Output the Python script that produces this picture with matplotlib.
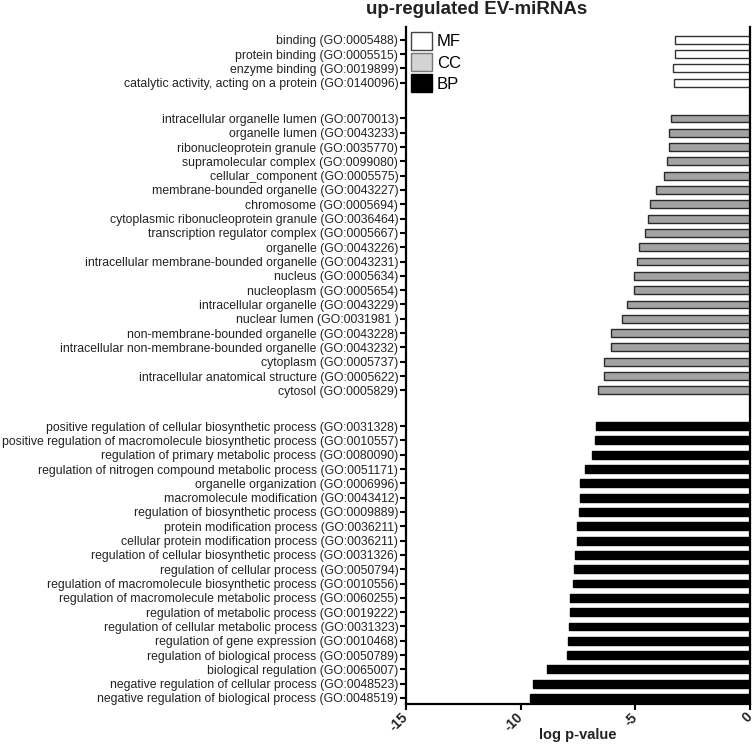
import numpy as np
import matplotlib.pyplot as plt
from matplotlib.patches import Patch

plt.rcParams['font.family'] = ['Liberation Sans', 'DejaVu Sans']

mf_labels = [
    'binding (GO:0005488)',
    'protein binding (GO:0005515)',
    'enzyme binding (GO:0019899)',
    'catalytic activity, acting on a protein (GO:0140096)',
]
mf_values = [-3.27, -3.28, -3.34, -3.33]

cc_labels = [
    'intracellular organelle lumen (GO:0070013)',
    'organelle lumen (GO:0043233)',
    'ribonucleoprotein granule (GO:0035770)',
    'supramolecular complex (GO:0099080)',
    'cellular_component (GO:0005575)',
    'membrane-bounded organelle (GO:0043227)',
    'chromosome (GO:0005694)',
    'cytoplasmic ribonucleoprotein granule (GO:0036464)',
    'transcription regulator complex (GO:0005667)',
    'organelle (GO:0043226)',
    'intracellular membrane-bounded organelle (GO:0043231)',
    'nucleus (GO:0005634)',
    'nucleoplasm (GO:0005654)',
    'intracellular organelle (GO:0043229)',
    'nuclear lumen (GO:0031981 )',
    'non-membrane-bounded organelle (GO:0043228)',
    'intracellular non-membrane-bounded organelle (GO:0043232)',
    'cytoplasm (GO:0005737)',
    'intracellular anatomical structure (GO:0005622)',
    'cytosol (GO:0005829)',
]
cc_values = [-3.45, -3.53, -3.53, -3.60, -3.77, -4.08, -4.36, -4.43, -4.56, -4.83,
             -4.91, -5.04, -5.04, -5.36, -5.58, -6.06, -6.06, -6.35, -6.37, -6.63]

bp_labels = [
    'positive regulation of cellular biosynthetic process (GO:0031328)',
    'positive regulation of macromolecule biosynthetic process (GO:0010557)',
    'regulation of primary metabolic process (GO:0080090)',
    'regulation of nitrogen compound metabolic process (GO:0051171)',
    'organelle organization (GO:0006996)',
    'macromolecule modification (GO:0043412)',
    'regulation of biosynthetic process (GO:0009889)',
    'protein modification process (GO:0036211)',
    'cellular protein modification process (GO:0036211)',
    'regulation of cellular biosynthetic process (GO:0031326)',
    'regulation of cellular process (GO:0050794)',
    'regulation of macromolecule biosynthetic process (GO:0010556)',
    'regulation of macromolecule metabolic process (GO:0060255)',
    'regulation of metabolic process (GO:0019222)',
    'regulation of cellular metabolic process (GO:0031323)',
    'regulation of gene expression (GO:0010468)',
    'regulation of biological process (GO:0050789)',
    'biological regulation (GO:0065007)',
    'negative regulation of cellular process (GO:0048523)',
    'negative regulation of biological process (GO:0048519)',
]
bp_values = [-6.72, -6.76, -6.89, -7.20, -7.40, -7.40, -7.47, -7.53, -7.53, -7.65,
             -7.68, -7.73, -7.84, -7.85, -7.89, -7.94, -7.97, -8.84, -9.46, -9.61]

gap = 2.5
y_mf = np.arange(len(mf_values))
y_cc = y_mf[-1] + gap + np.arange(len(cc_values))
y_bp = y_cc[-1] + gap + np.arange(len(bp_values))

fig = plt.figure(figsize=(7.54, 7.45), dpi=100)
ax = fig.add_axes([406 / 754, 1 - 704 / 745, 344 / 754, 677 / 745])

h = 0.55
ax.barh(y_mf, mf_values, height=h, color='white', edgecolor='#333333', linewidth=1)
ax.barh(y_cc, cc_values, height=h, color='#a3a3a3', edgecolor='#2a2a2a', linewidth=1)
ax.barh(y_bp, bp_values, height=h, color='black', edgecolor='black', linewidth=1)

ax.set_yticks(np.concatenate([y_mf, y_cc, y_bp]))
ax.set_yticklabels(mf_labels + cc_labels + bp_labels, fontsize=8.8, color='#222222')
ax.set_ylim(46.42, -0.89)
ax.set_xlim(-15, 0)
ax.set_xticks([-15, -10, -5, 0])
ax.set_xticklabels(['-15', '-10', '-5', '0'], rotation=45, ha='right', va='center',
                   rotation_mode='anchor', fontsize=10, fontweight='bold', color='#222222')

for s in ['left', 'bottom', 'right']:
    ax.spines[s].set_linewidth(1.6)
ax.spines['top'].set_visible(False)
ax.tick_params(axis='y', length=4, width=1.5, pad=1.5)
ax.tick_params(axis='x', length=4, width=1.5, pad=4)

ax.set_xlabel('log p-value', fontsize=10.5, fontweight='bold', color='#222222')
ax.xaxis.label.set_va('center')
ax.xaxis.set_label_coords(0.5, -31 / 677)

handles = [Patch(facecolor='white', edgecolor='#444444'),
           Patch(facecolor='#d3d3d3', edgecolor='#777777'),
           Patch(facecolor='black', edgecolor='black')]
ax.legend(handles, ['MF', 'CC', 'BP'], loc='upper left', frameon=False, fontsize=12,
          handlelength=1.26, handleheight=1.26, handletextpad=0.3, labelspacing=0.2,
          borderaxespad=0.3, borderpad=0.0)

fig.text(477 / 754, 1 - 14 / 745, 'up-regulated EV-miRNAs', ha='center', va='baseline',
         fontsize=13.5, fontweight='bold', color='#222222')

fig.savefig('out.png', dpi=100)
